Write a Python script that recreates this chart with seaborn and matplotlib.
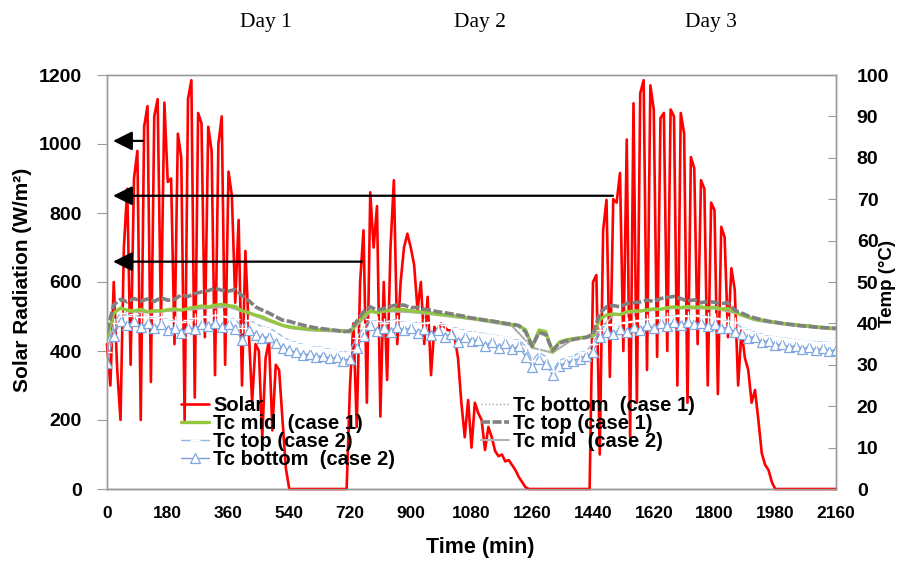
import numpy as np
import pandas as pd
import matplotlib
matplotlib.use("Agg")
import matplotlib.pyplot as plt
import seaborn as sns

# ---------------- data ----------------
solar_time = np.arange(0, 2161, 10)
solar_day1 = [420, 300, 600, 350, 200, 700, 870, 360, 900, 980,
              200, 1050, 1110, 310, 1080, 1130, 480, 1120, 890, 900,
              420, 1030, 960, 200, 1130, 1185, 265, 1090, 1060, 440,
              1050, 980, 330, 1000, 1080, 360, 920, 850, 540, 780,
              300, 690, 460, 250, 420, 400, 150, 380, 430, 170,
              360, 345, 200, 60]
solar_night1 = [0] * 18
solar_day2 = [300, 480, 180, 600, 750, 250, 860, 700, 820, 210,
              600, 316, 700, 895, 420, 600, 700, 740, 700, 650,
              520, 600, 420, 557, 330, 470, 450, 480, 470, 460,
              460, 440, 380, 250, 150, 258, 120, 250, 220, 200,
              113, 180, 150, 110, 95, 100, 80, 84, 70, 55,
              35, 20, 5, 0]
solar_night2 = [0] * 18
solar_day3 = [600, 620, 100, 750, 838, 325, 840, 830, 916, 400,
              1013, 150, 1118, 250, 1147, 1185, 345, 1170, 1100, 383,
              1075, 1090, 400, 1100, 1080, 300, 1090, 1031, 250, 962,
              930, 420, 895, 870, 300, 830, 808, 275, 760, 730,
              440, 640, 577, 300, 460, 380, 345, 250, 287, 200,
              104, 70, 55, 20]
solar_night3 = [0] * 19
solar = solar_day1 + solar_night1 + solar_day2 + solar_night2 + solar_day3 + solar_night3

temp_time = np.arange(0, 2161, 20)
tc_top_case1 = [38.0, 44.5, 45.8, 45.2, 46.0, 45.4, 45.9, 45.3, 46.2, 45.6,
                45.8, 46.9, 46.5, 47.2, 47.6, 47.9, 48.5, 48.0, 47.8, 48.2,
                46.7, 45.5, 44.0, 43.2, 42.5, 41.6, 40.8, 40.5, 40.0, 39.6,
                39.2, 38.9, 38.7, 38.5, 38.3, 38.0, 38.2, 40.5, 42.8, 44.0,
                43.2, 43.6, 44.1, 44.5, 44.4, 43.8, 43.9, 43.4, 43.2, 42.8,
                42.6, 42.3, 42.0, 41.7, 41.3, 41.1, 40.8, 40.6, 40.3, 40.0,
                39.8, 39.5, 38.0, 34.5, 37.8, 37.3, 33.5, 35.2, 35.8, 36.1,
                36.4, 36.6, 37.5, 42.5, 44.0, 44.3, 44.0, 44.8, 45.0, 45.2,
                45.6, 45.3, 46.0, 46.3, 46.5, 46.0, 45.4, 45.7, 45.0, 45.3,
                45.1, 44.8, 45.0, 43.2, 42.5, 41.8, 41.3, 40.9, 40.5, 40.3,
                40.0, 39.8, 39.6, 39.4, 39.3, 39.1, 39.0, 38.9, 38.8]
tc_mid_case1 = [36.5, 42.5, 43.7, 43.2, 43.0, 43.4, 42.8, 43.1, 43.0, 43.3,
                43.5, 43.2, 43.6, 43.9, 44.2, 44.0, 44.4, 44.6, 44.3, 44.1,
                43.0, 42.6, 42.0, 41.6, 40.8, 40.2, 39.5, 39.2, 38.9, 38.8,
                38.6, 38.5, 38.4, 38.4, 38.3, 38.2, 38.0, 40.0, 41.8, 43.0,
                42.6, 43.0, 43.2, 43.4, 43.3, 43.0, 42.9, 42.7, 42.5, 42.2,
                42.1, 41.9, 41.7, 41.4, 41.3, 41.0, 40.8, 40.5, 40.3, 40.0,
                39.7, 39.4, 38.5, 34.3, 38.4, 38.0, 33.0, 35.5, 36.0, 36.3,
                36.5, 36.7, 37.0, 41.0, 42.0, 42.3, 42.1, 42.8, 43.0, 43.0,
                43.3, 43.5, 43.4, 43.8, 44.0, 43.8, 44.1, 43.9, 44.0, 43.7,
                43.9, 43.5, 43.6, 42.8, 42.0, 41.5, 41.0, 40.8, 40.5, 40.3,
                40.0, 39.8, 39.7, 39.5, 39.4, 39.2, 39.0, 38.9, 38.8]
tc_top_case2 = [33.0, 40.0, 42.5, 41.8, 42.2, 41.5, 41.8, 41.3, 41.6, 41.0,
                40.6, 40.3, 40.8, 41.2, 41.5, 41.8, 42.0, 41.7, 41.5, 41.0,
                39.0, 40.8, 40.0, 39.2, 38.9, 38.0, 36.8, 36.0, 35.5, 35.0,
                34.7, 34.4, 34.2, 33.8, 33.5, 33.2, 33.5, 36.5, 39.0, 41.0,
                40.6, 40.2, 40.7, 40.9, 40.3, 40.5, 40.2, 40.0, 40.3, 40.0,
                39.6, 39.3, 38.8, 38.4, 38.0, 37.8, 37.5, 37.2, 37.0, 36.7,
                36.4, 36.0, 34.5, 31.0, 33.0, 32.0, 28.5, 31.0, 31.8, 32.0,
                33.0, 33.5, 35.0, 38.5, 39.6, 39.8, 40.0, 40.3, 40.5, 40.8,
                41.0, 41.3, 41.5, 41.6, 41.9, 42.0, 41.8, 42.0, 41.9, 41.6,
                41.3, 41.0, 40.7, 40.3, 39.0, 38.5, 38.0, 37.5, 37.0, 36.7,
                36.5, 36.3, 36.0, 35.9, 35.7, 35.6, 35.5, 35.4, 35.3]
tc_bottom_case2 = [30.5, 37.0, 40.5, 39.5, 40.6, 39.2, 40.0, 38.8, 39.8, 38.5,
                   38.9, 37.8, 39.0, 38.6, 39.8, 39.3, 40.2, 39.1, 39.8, 38.6,
                   36.0, 38.5, 37.3, 36.5, 36.8, 35.2, 34.0, 33.5, 33.0, 32.4,
                   32.6, 32.0, 32.2, 31.6, 31.8, 31.0, 31.5, 34.0, 37.0, 39.5,
                   38.2, 38.8, 38.0, 39.2, 38.3, 39.0, 37.8, 38.6, 37.2, 38.3,
                   36.8, 37.5, 35.5, 36.8, 35.8, 36.0, 34.5, 35.6, 34.0, 35.2,
                   33.8, 34.5, 32.0, 29.5, 31.5, 30.2, 27.5, 29.8, 30.5, 31.0,
                   31.5, 32.2, 33.0, 36.8, 38.0, 37.5, 38.6, 38.0, 39.2, 38.5,
                   39.6, 38.9, 40.0, 39.4, 40.3, 39.6, 40.4, 39.8, 40.2, 39.3,
                   39.8, 38.9, 39.0, 38.0, 37.5, 36.5, 36.8, 35.6, 35.8, 34.8,
                   35.0, 34.2, 34.6, 33.8, 34.3, 33.5, 34.0, 33.4, 33.6]

hourly_time = np.arange(0, 2161, 60)
tc_bottom_case1 = [36.3, 43.0, 42.7, 43.1, 43.4, 43.8, 44.1, 42.5, 40.6, 39.0,
                   38.4, 38.2, 37.9, 42.8, 43.0, 42.8, 42.3, 41.7, 41.1, 40.3,
                   39.5, 34.2, 33.0, 36.2, 36.8, 42.1, 42.8, 43.3, 43.8, 43.7,
                   43.7, 42.6, 40.8, 40.1, 39.5, 39.0, 38.6]
tc_mid_case2 = [36.2, 42.9, 42.6, 43.0, 43.3, 43.7, 44.0, 42.4, 40.5, 38.9,
                38.3, 38.1, 37.8, 42.7, 42.9, 42.7, 42.2, 41.6, 41.0, 40.2,
                39.4, 34.1, 32.9, 36.1, 36.7, 42.0, 42.7, 43.2, 43.7, 43.6,
                43.6, 42.5, 40.7, 40.0, 39.4, 38.9, 38.5]

x_ticks = list(range(0, 2161, 180))
day_labels = ["Day 1", "Day 2", "Day 3"]

# ---------------- style ----------------
sns.set_style("white")
plt.rcParams["font.family"] = ["Liberation Sans", "DejaVu Sans"]
plt.rcParams["text.color"] = "black"

W, H = 899, 561
fig = plt.figure(figsize=(W / 100, H / 100), dpi=100)
ax = fig.add_axes([107 / W, 1 - 489 / H, (836 - 107) / W, (489 - 75) / H])
ax2 = ax.twinx()

solar_df = pd.DataFrame({"t": solar_time, "Solar": solar})
sns.lineplot(data=solar_df, x="t", y="Solar", ax=ax, color="#FF0000", lw=1.9,
             label="Solar", legend=False, clip_on=False, zorder=3)

tdf = pd.DataFrame({"t": temp_time, "top1": tc_top_case1, "mid1": tc_mid_case1,
                    "top2": tc_top_case2, "bot2": tc_bottom_case2})
hdf = pd.DataFrame({"t": hourly_time, "bot1": tc_bottom_case1, "mid2": tc_mid_case2})

sns.lineplot(data=hdf, x="t", y="mid2", ax=ax2, color="#B4B4B4", lw=1.5,
             label="Tc mid  (case 2)", legend=False)
sns.lineplot(data=hdf, x="t", y="bot1", ax=ax2, color="#A0A0A0", lw=1.0,
             linestyle=":", label="Tc bottom  (case 1)", legend=False)
sns.lineplot(data=tdf, x="t", y="bot2", ax=ax2, color="#7E9BD6", lw=1.0,
             marker="^", markersize=6.5, markerfacecolor="white",
             markeredgecolor="#7EA6E0", markeredgewidth=0.9,
             label="Tc bottom  (case 2)", legend=False)
sns.lineplot(data=tdf, x="t", y="top2", ax=ax2, color="#8DB8E8", lw=1.0,
             marker="+", markersize=6.5, markeredgewidth=1.0,
             label="Tc top (case 2)", legend=False)
sns.lineplot(data=tdf, x="t", y="mid1", ax=ax2, color="#92C83E", lw=2.4,
             label="Tc mid  (case 1)", legend=False)
sns.lineplot(data=tdf, x="t", y="top1", ax=ax2, color="#808080", lw=2.6,
             linestyle=(0, (2.5, 0.7)), label="Tc top (case 1)", legend=False)

# axes limits & ticks
ax.set_xlim(0, 2160)
ax.set_ylim(0, 1200)
ax2.set_ylim(0, 100)
ax.set_xticks(x_ticks)
ax.set_xticks(range(0, 2161, 30), minor=True)
ax.set_yticks(range(0, 1201, 200))
ax2.set_yticks(range(0, 101, 10))
ax.set_xlabel("")
ax.set_ylabel("")
ax2.set_ylabel("")

for a in (ax, ax2):
    for s in a.spines.values():
        s.set_color("#9A9A9A")
        s.set_linewidth(1.0)
ax.spines["bottom"].set_color("#606060")

ax.tick_params(axis="x", which="both", direction="inout", length=9, width=0.8,
               color="#606060", labelsize=12.5, pad=8, labelcolor="black")
ax.tick_params(axis="y", direction="out", length=7, width=0.8, color="#9A9A9A",
               labelsize=14, pad=11, left=True, labelcolor="black")
ax2.tick_params(axis="y", direction="in", length=6, width=0.8, color="#9A9A9A",
                labelsize=14, pad=15, right=True, labelcolor="black")
for lab in ax.get_xticklabels() + ax.get_yticklabels() + ax2.get_yticklabels():
    lab.set_fontweight("bold")

# arrows
arrow_kw = dict(arrowstyle="-|>,head_length=0.9,head_width=0.45", color="black",
                lw=1.6, mutation_scale=13, shrinkA=0, shrinkB=0)
ax.annotate("", xy=(18, 1009), xytext=(107, 1009), arrowprops=arrow_kw, zorder=5)
ax.annotate("", xy=(18, 850), xytext=(1499, 850), arrowprops=arrow_kw, zorder=5)
ax.annotate("", xy=(18, 659), xytext=(755, 659), arrowprops=arrow_kw, zorder=5)

# legend
h1, l1 = ax.get_legend_handles_labels()
h2, l2 = ax2.get_legend_handles_labels()
handles = dict(zip(l1 + l2, h1 + h2))
order = ["Solar", "Tc mid  (case 1)", "Tc top (case 2)", "Tc bottom  (case 2)",
         "Tc bottom  (case 1)", "Tc top (case 1)", "Tc mid  (case 2)"]
leg = ax2.legend([handles[k] for k in order], order, loc="upper left",
                 bbox_to_anchor=(181 / W, 1 - 396 / H), bbox_transform=fig.transFigure,
                 ncol=2, frameon=False, prop={"weight": "bold", "size": 14.5},
                 handlelength=1.4, handletextpad=0.2, labelspacing=-0.05,
                 columnspacing=4.25, borderpad=0, borderaxespad=0)
for txt in leg.get_texts():
    txt.set_color("black")

# labels
fig.text(23 / W, 1 - 280 / H, "Solar Radiation (W/m²)", rotation=90, ha="center",
         va="center", fontsize=15, fontweight="bold")
fig.text(888 / W, 1 - 283 / H, "Temp (°C)", rotation=90, ha="center",
         va="center", fontsize=13.5, fontweight="bold")
fig.text(480 / W, 1 - 548 / H, "Time (min)", ha="center", va="center",
         fontsize=15.5, fontweight="bold")
for lab, xc in zip(day_labels, [266, 480, 711]):
    fig.text(xc / W, 1 - 22 / H, lab, ha="center", va="center", fontsize=15.5,
             family=["Liberation Serif", "DejaVu Serif"])

fig.savefig("out.png", dpi=100)
